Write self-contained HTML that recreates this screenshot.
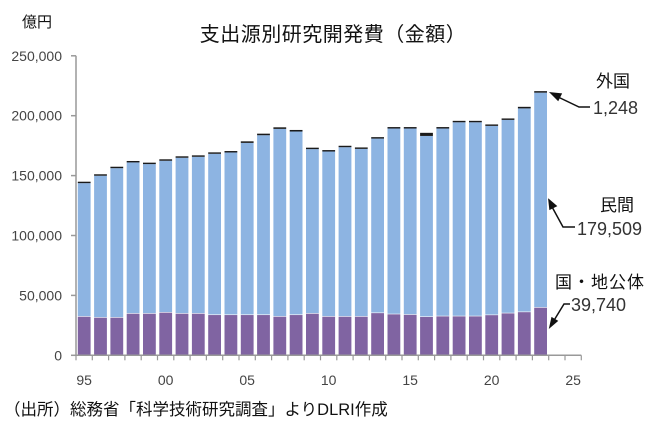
<!DOCTYPE html>
<html><head><meta charset="utf-8">
<style>
body{margin:0;background:#fff;width:660px;height:429px;overflow:hidden}
svg{font-family:"Liberation Sans","Noto Sans CJK JP",sans-serif}
</style></head>
<body>
<svg id="chart" width="660" height="429" viewBox="0 0 660 429" xmlns="http://www.w3.org/2000/svg">
<text x="333" y="41" font-size="20" text-anchor="middle" fill="#111" letter-spacing="0.5">支出源別研究開発費（金額）</text>
<text x="22" y="27" font-size="15" fill="#111">億円</text>
<g id="grid"></g><g id="bars"></g><g id="axes"></g>
<g font-size="17" fill="#111">
<text x="596" y="87">外国</text>
<text x="593" y="114" fill="#333" font-size="18">1,248</text>
<text x="600" y="211">民間</text>
<text x="577" y="235" fill="#333" font-size="18">179,509</text>
<text x="555" y="288" letter-spacing="1">国・地公体</text>
<text x="571" y="311" fill="#333" font-size="18">39,740</text>
</g>
<g stroke="#111" stroke-width="1.5" fill="none">
<polyline points="590,107 579,107 556,96"/><polygon points="551,93 561,94 558,100" fill="#111"/>
<polyline points="575,227 563,227 551,205"/><polygon points="549,200 556,206 550,209" fill="#111"/>
<polyline points="570,304 564,304 553,322"/><polygon points="550,327 552,318 557,321" fill="#111"/>
</g>
<text x="4" y="415" font-size="16.5" fill="#111">（出所）総務省「科学技術研究調査」よりDLRI作成</text>
</svg>
<script>
const years=[1995,1996,1997,1998,1999,2000,2001,2002,2003,2004,2005,2006,2007,2008,2009,2010,2011,2012,2013,2014,2015,2016,2017,2018,2019,2020,2021,2022,2023];
const government=[32200,31400,31400,34700,34700,35600,34700,34700,33600,33600,33600,33600,32200,33600,34700,32200,32200,32200,35200,34200,33800,32000,32500,32500,32500,33500,35000,36000,39740];
const totals=[144900,151100,157400,162200,160800,163600,166100,166900,169400,170500,178600,185000,190300,188100,173300,171300,174900,173500,182100,190500,190500,185700,190500,195700,195700,192700,197700,207400,220497];
const foreign=[1200,1200,1200,1200,1200,1200,1200,1200,1200,1200,1300,1300,1300,1300,1200,1200,1200,1200,1200,1200,1200,2600,1200,1200,1200,1200,1200,1300,1248];
const yTicks=[0,50000,100000,150000,200000,250000];
const xLabels=[["95",1995],["00",2000],["05",2005],["10",2010],["15",2015],["20",2020],["25",2025]];
const NS="http://www.w3.org/2000/svg";
const x0=76,band=16.3,firstYear=1995,nCat=31,y0=355.3,yMax=250000,plotH=299.5;
const yS=v=>y0-v/yMax*plotH;
const xS=yr=>x0+(yr-firstYear)*band;
function mk(tag,a,p){const e=document.createElementNS(NS,tag);for(const k in a)e.setAttribute(k,a[k]);p.appendChild(e);return e;}
const grid=document.getElementById('grid'),bars=document.getElementById('bars'),axes=document.getElementById('axes');
yTicks.forEach(v=>{
 const t=mk('text',{x:62,y:yS(v)+5,'font-size':14,'text-anchor':'end',fill:'#444'},axes);
 t.textContent=v.toLocaleString('en-US');
 
 
 const tk=mk('line',{x1:71,x2:76,y1:yS(v),y2:yS(v),stroke:'#999','stroke-width':1.5},axes);
 
 
});
years.forEach((yr,i)=>{
 const bx=xS(yr)+1.8,bw=12.8;
 const g=government[i],f=foreign[i],p=totals[i]-g-f;
 const r1=mk('rect',{x:bx,y:yS(g),width:bw,height:yS(0)-yS(g),fill:'#8064a2'},bars);
 
 
 const r2=mk('rect',{x:bx,y:yS(g+p),width:bw,height:yS(g)-yS(g+p)-0.6,fill:'#8db4e2'},bars);
 
 
 const r3=mk('rect',{x:bx,y:yS(g+p+f),width:bw,height:Math.max(1.3,yS(g+p)-yS(g+p+f)),fill:'#1a1a1a'},bars);
 
 
});
const ya=mk('line',{x1:76,x2:76,y1:yS(yMax),y2:y0,stroke:'#999','stroke-width':1.5},axes);


const xa=mk('line',{x1:x0,x2:x0+nCat*band,y1:y0,y2:y0,stroke:'#999','stroke-width':1.5},axes);


for(let k=0;k<=nCat;k++){
 const tk=mk('line',{x1:x0+k*band,x2:x0+k*band,y1:y0,y2:y0+5,stroke:'#999','stroke-width':1.2},axes);
 
 
}
xLabels.forEach(([lab,yr])=>{
 const t=mk('text',{x:xS(yr)+band/2,y:385,'font-size':14,'text-anchor':'middle',fill:'#444'},axes);
 t.textContent=lab;
 
 
});
</script>
</body></html>
